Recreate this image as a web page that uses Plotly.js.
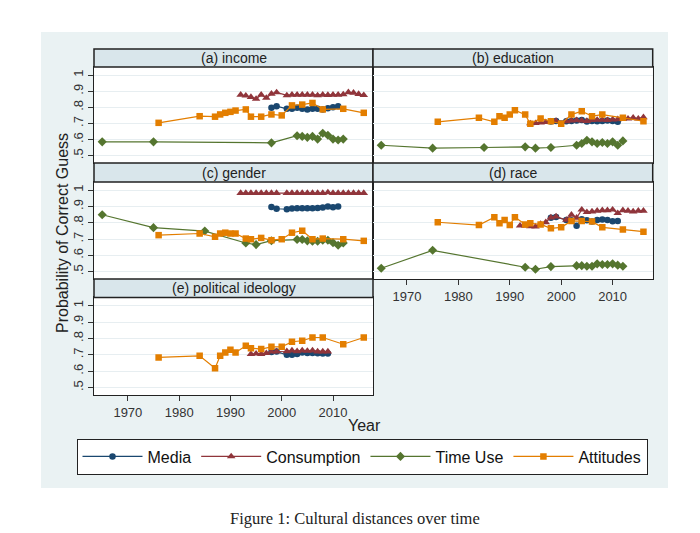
<!DOCTYPE html>
<html><head><meta charset="utf-8">
<script src="https://cdn.plot.ly/plotly-3.0.1.min.js"></script>
<style>body{margin:0;padding:0;background:#fff}#chart{width:700px;height:533px}</style>
</head><body><div id="chart"></div>
<script>
// ---------- data ----------
const seriesNames = ['Media', 'Consumption', 'Time Use', 'Attitudes'];
const panelTitles = ['(a) income', '(b) education', '(c) gender', '(d) race', '(e) political ideology'];
const xTickVals = [1970, 1980, 1990, 2000, 2010];
const xTickText = ['1970', '1980', '1990', '2000', '2010'];
const yTickVals = [0.5, 0.6, 0.7, 0.8, 0.9, 1];
const yTickText = ['.5', '.6', '.7', '.8', '.9', '1'];

const mediaYears = [1998, 1999, 2001, 2002, 2003, 2004, 2005, 2006, 2007, 2008, 2009, 2010, 2011];
const mediaYearsPol = [1998, 1999, 2001, 2002, 2003, 2004, 2005, 2006, 2007, 2008, 2009];
const consYears = [1992, 1993, 1994, 1995, 1996, 1997, 1998, 1999, 2001, 2002, 2003, 2004, 2005, 2006, 2007, 2008, 2009, 2010, 2011, 2012, 2013, 2014, 2015, 2016];
const consYearsEdu = [1994, 1995, 1996, 1997, 1998, 1999, 2001, 2002, 2003, 2004, 2005, 2006, 2007, 2008, 2009, 2010, 2011, 2012, 2013, 2014, 2015, 2016];
const consYearsPol = [1994, 1995, 1996, 1997, 1998, 1999, 2001, 2002, 2003, 2004, 2005, 2006, 2007, 2008, 2009];
const timeYearsInc = [1965, 1975, 1998, 2003, 2004, 2005, 2006, 2007, 2008, 2009, 2010, 2011, 2012];
const timeYears = [1965, 1975, 1985, 1993, 1995, 1998, 2003, 2004, 2005, 2006, 2007, 2008, 2009, 2010, 2011, 2012];
const timeYearsRace = [1965, 1975, 1993, 1995, 1998, 2003, 2004, 2005, 2006, 2007, 2008, 2009, 2010, 2011, 2012];
const attYears = [1976, 1984, 1987, 1988, 1989, 1990, 1991, 1993, 1994, 1996, 1998, 2000, 2002, 2004, 2006, 2008, 2012, 2016];

// (a) income
const incMedia = [0.797, 0.807, 0.791, 0.791, 0.797, 0.791, 0.787, 0.791, 0.791, 0.787, 0.795, 0.800, 0.807];
const incCons = [0.878, 0.872, 0.864, 0.852, 0.878, 0.858, 0.884, 0.892, 0.874, 0.878, 0.878, 0.878, 0.878, 0.878, 0.874, 0.878, 0.876, 0.878, 0.878, 0.880, 0.893, 0.890, 0.882, 0.875];
const incTime = [0.586, 0.586, 0.580, 0.624, 0.620, 0.614, 0.620, 0.603, 0.639, 0.627, 0.603, 0.598, 0.603];
const incAtt = [0.704, 0.745, 0.742, 0.756, 0.766, 0.772, 0.780, 0.787, 0.742, 0.742, 0.756, 0.750, 0.812, 0.817, 0.827, 0.787, 0.791, 0.766];
// (b) education
const eduMedia = [0.712, 0.715, 0.714, 0.716, 0.718, 0.722, 0.712, 0.716, 0.714, 0.716, 0.718, 0.716, 0.710];
const eduCons = [0.700, 0.702, 0.705, 0.708, 0.712, 0.715, 0.713, 0.718, 0.720, 0.718, 0.715, 0.720, 0.722, 0.722, 0.720, 0.724, 0.726, 0.728, 0.730, 0.735, 0.730, 0.738];
const eduTime = [0.565, 0.547, 0.551, 0.555, 0.547, 0.551, 0.565, 0.576, 0.596, 0.586, 0.576, 0.582, 0.576, 0.586, 0.565, 0.592];
const eduAtt = [0.710, 0.735, 0.710, 0.745, 0.735, 0.755, 0.782, 0.755, 0.698, 0.731, 0.714, 0.698, 0.755, 0.776, 0.745, 0.755, 0.735, 0.714];
// (c) gender
const genMedia = [0.896, 0.886, 0.883, 0.887, 0.889, 0.889, 0.889, 0.889, 0.891, 0.893, 0.900, 0.895, 0.899];
const genCons = [0.982, 0.982, 0.982, 0.982, 0.982, 0.982, 0.982, 0.982, 0.982, 0.982, 0.982, 0.982, 0.982, 0.982, 0.982, 0.982, 0.986, 0.982, 0.982, 0.982, 0.982, 0.982, 0.982, 0.982];
const genTime = [0.849, 0.770, 0.749, 0.676, 0.666, 0.690, 0.697, 0.697, 0.689, 0.687, 0.687, 0.693, 0.693, 0.678, 0.662, 0.676];
const genAtt = [0.724, 0.734, 0.714, 0.734, 0.739, 0.734, 0.734, 0.703, 0.699, 0.707, 0.693, 0.699, 0.739, 0.751, 0.699, 0.703, 0.699, 0.689];
// (d) race
const raceMedia = [0.830, 0.835, 0.817, 0.815, 0.782, 0.822, 0.815, 0.808, 0.817, 0.820, 0.817, 0.810, 0.811];
const raceCons = [0.782, 0.782, 0.778, 0.776, 0.793, 0.803, 0.832, 0.838, 0.817, 0.849, 0.830, 0.880, 0.865, 0.869, 0.873, 0.876, 0.876, 0.880, 0.859, 0.876, 0.873, 0.869, 0.873, 0.873];
const raceTime = [0.521, 0.631, 0.527, 0.515, 0.531, 0.537, 0.537, 0.533, 0.533, 0.548, 0.544, 0.544, 0.548, 0.540, 0.533];
const raceAtt = [0.803, 0.786, 0.834, 0.797, 0.817, 0.786, 0.834, 0.790, 0.797, 0.790, 0.766, 0.772, 0.811, 0.811, 0.807, 0.772, 0.759, 0.745];
// (e) political ideology
const polMedia = [0.718, 0.720, 0.700, 0.700, 0.705, 0.715, 0.712, 0.712, 0.710, 0.708, 0.708];
const polCons = [0.705, 0.707, 0.705, 0.710, 0.720, 0.720, 0.722, 0.726, 0.722, 0.726, 0.724, 0.726, 0.720, 0.720, 0.720];
const polAtt = [0.684, 0.694, 0.618, 0.694, 0.714, 0.731, 0.714, 0.755, 0.741, 0.735, 0.749, 0.749, 0.780, 0.786, 0.806, 0.806, 0.765, 0.806];

// ---------- styling / layout ----------
const W = 700, H = 533;
const px = v => v / W;
const py = v => 1 - v / H;
const FONT = 'Liberation Sans, Arial, sans-serif';
const styles = [
  {color: '#1a476f', symbol: 'circle', size: 6.5},
  {color: '#90353b', symbol: 'triangle-up', size: 7.5},
  {color: '#55752f', symbol: 'diamond', size: 7},
  {color: '#e37e00', symbol: 'square', size: 6.5}
];
const xRange = [1963.4, 2017.8];
const yRange = [0.455, 1.05];

const panels = [
  {x0: 94, x1: 373, y0: 67, y1: 163, h0: 49, showY: true, showX: false,
   series: [[mediaYears, incMedia], [consYears, incCons], [timeYearsInc, incTime], [attYears, incAtt]]},
  {x0: 373, x1: 652.7, y0: 67, y1: 163, h0: 49, showY: false, showX: false,
   series: [[mediaYears, eduMedia], [consYearsEdu, eduCons], [timeYears, eduTime], [attYears, eduAtt]]},
  {x0: 94, x1: 373, y0: 182, y1: 279, h0: 163, showY: true, showX: false,
   series: [[mediaYears, genMedia], [consYears, genCons], [timeYears, genTime], [attYears, genAtt]]},
  {x0: 373, x1: 652.7, y0: 182, y1: 279, h0: 163, showY: false, showX: true,
   series: [[mediaYears, raceMedia], [consYears, raceCons], [timeYearsRace, raceTime], [attYears, raceAtt]]},
  {x0: 94, x1: 373, y0: 297.5, y1: 395, h0: 279, showY: true, showX: true,
   series: [[mediaYearsPol, polMedia], [consYearsPol, polCons], null, [attYears, polAtt]]}
];

const traces = [];
const layout = {
  width: W, height: H,
  margin: {l: 0, r: 0, t: 0, b: 0},
  paper_bgcolor: '#eaf2f3',
  plot_bgcolor: '#ffffff',
  font: {family: FONT, color: '#222'},
  showlegend: true,
  legend: {
    orientation: 'h', x: px(362), xanchor: 'center', y: py(456.5), yanchor: 'middle',
    bgcolor: '#ffffff', bordercolor: '#222', borderwidth: 1,
    font: {family: FONT, size: 16, color: '#111'}, itemwidth: 60, traceorder: 'normal'
  },
  shapes: [
    {type: 'rect', xref: 'paper', yref: 'paper', x0: 0, x1: 1, y0: py(32), y1: 1, fillcolor: '#fff', line: {width: 0}, layer: 'below'},
    {type: 'rect', xref: 'paper', yref: 'paper', x0: 0, x1: 1, y0: 0, y1: py(488), fillcolor: '#fff', line: {width: 0}, layer: 'below'},
    {type: 'rect', xref: 'paper', yref: 'paper', x0: 0, x1: px(41), y0: 0, y1: 1, fillcolor: '#fff', line: {width: 0}, layer: 'below'},
    {type: 'rect', xref: 'paper', yref: 'paper', x0: px(668), x1: 1, y0: 0, y1: 1, fillcolor: '#fff', line: {width: 0}, layer: 'below'}
  ],
  annotations: [
    {text: 'Probability of Correct Guess', textangle: -90, xref: 'paper', yref: 'paper', x: px(62), y: py(233),
     xanchor: 'center', yanchor: 'middle', showarrow: false, font: {family: FONT, size: 16, color: '#222'}},
    {text: 'Year', xref: 'paper', yref: 'paper', x: px(364), y: py(425), xanchor: 'center', yanchor: 'middle',
     showarrow: false, font: {family: FONT, size: 16, color: '#222'}},
    {text: 'Figure 1: Cultural distances over time', xref: 'paper', yref: 'paper', x: px(355), y: py(518),
     xanchor: 'center', yanchor: 'middle', showarrow: false,
     font: {family: 'Liberation Serif, Times New Roman, serif', size: 16.5, color: '#222'}}
  ]
};

panels.forEach((p, i) => {
  const n = i + 1;
  const xa = 'xaxis' + (n === 1 ? '' : n), ya = 'yaxis' + (n === 1 ? '' : n);
  const xr = 'x' + (n === 1 ? '' : n), yr = 'y' + (n === 1 ? '' : n);
  layout[xa] = {
    domain: [px(p.x0), px(p.x1)], range: xRange, anchor: yr,
    showline: true, mirror: true, linecolor: '#222', linewidth: 1.3,
    showgrid: false, zeroline: false,
    tickvals: xTickVals, ticktext: xTickText, showticklabels: p.showX,
    ticks: p.showX ? 'outside' : '', ticklen: 5, tickcolor: '#333', tickwidth: 1,
    tickfont: {family: FONT, size: 13, color: '#333'}, fixedrange: true
  };
  layout[ya] = {
    domain: [py(p.y1), py(p.y0)], range: yRange, anchor: xr,
    showline: true, mirror: true, linecolor: '#222', linewidth: 1.3,
    showgrid: true, gridcolor: '#e7eef1', gridwidth: 1, zeroline: false,
    tickvals: yTickVals, ticktext: yTickText, showticklabels: p.showY,
    ticks: p.showY ? 'outside' : '', ticklen: 5, tickcolor: '#333', tickwidth: 1, tickangle: -90,
    tickfont: {family: FONT, size: 13, color: '#333'}, fixedrange: true
  };
  // header band
  layout.shapes.push({type: 'rect', xref: 'paper', yref: 'paper', x0: px(p.x0), x1: px(p.x1), y0: py(p.y0), y1: py(p.h0),
    fillcolor: '#d9e6eb', line: {color: '#222', width: 1.5}, layer: 'above'});
  layout.annotations.push({text: panelTitles[i], xref: 'paper', yref: 'paper', x: px((p.x0 + p.x1) / 2), y: py((p.h0 + p.y0) / 2),
    xanchor: 'center', yanchor: 'middle', showarrow: false, font: {family: FONT, size: 14, color: '#222'}});
  p.series.forEach((s, k) => {
    if (!s) return;
    traces.push({
      x: s[0], y: s[1], xaxis: xr, yaxis: yr, type: 'scatter', mode: 'lines+markers',
      name: seriesNames[k], legendgroup: seriesNames[k], showlegend: n === 1,
      line: {color: styles[k].color, width: 1.2},
      marker: {symbol: styles[k].symbol, size: styles[k].size, color: styles[k].color, line: {width: 0}},
      hoverinfo: 'skip'
    });
  });
});

Plotly.newPlot('chart', traces, layout, {staticPlot: true, displayModeBar: false});
</script>
</body></html>
